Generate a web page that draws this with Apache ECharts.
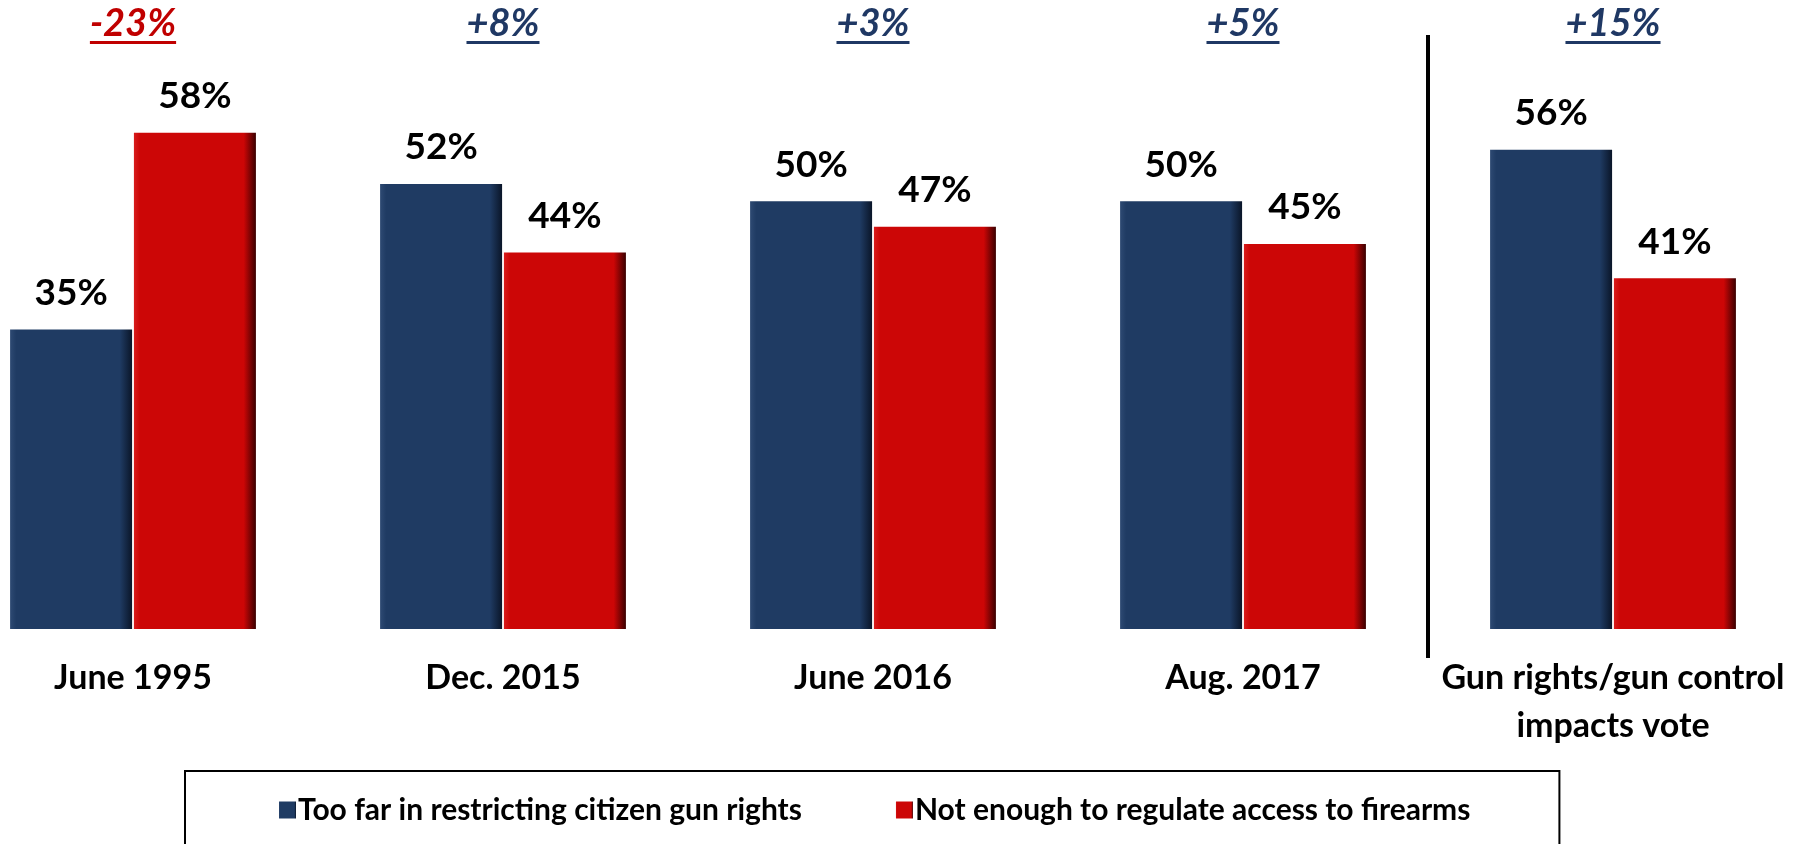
<!DOCTYPE html>
<html>
<head>
<meta charset="utf-8">
<script src="https://cdn.jsdelivr.net/npm/echarts@6/dist/echarts.min.js"></script>
<style>
html,body{margin:0;padding:0;background:#fff;}
#chart{width:1801px;height:844px;}
</style>
</head>
<body>
<div id="chart"></div>
<script>
const categories = ['June 1995', 'Dec. 2015', 'June 2016', 'Aug. 2017', 'Gun rights/gun control\nimpacts vote'];
const seriesNames = ['Too far in restricting citizen gun rights', 'Not enough to regulate access to firearms'];
const tooFar = [35, 52, 50, 50, 56];
const notEnough = [58, 44, 47, 45, 41];
const diffLabels = ['-23%', '+8%', '+3%', '+5%', '+15%'];

const FONT = 'Lato';
const BLUE = '#1F3B63';
const RED = '#CC0606';

function barGrad(base, dark, light) {
  return new echarts.graphic.LinearGradient(0, 0, 1, 0, [
    {offset: 0, color: light},
    {offset: 0.05, color: base},
    {offset: 0.9, color: base},
    {offset: 1, color: dark}
  ]);
}

const chart = echarts.init(document.getElementById('chart'));
const labelCfg = {
  show: true, position: 'top', distance: 18,
  formatter: p => p.value + '%',
  fontFamily: FONT, fontWeight: 'bold', fontSize: 37, color: '#000'
};
chart.setOption({
  animation: false,
  backgroundColor: '#fff',
  grid: {left: 133, right: 188, top: 30, bottom: 215, containLabel: false},
  xAxis: {
    type: 'category', data: categories, boundaryGap: false,
    axisLine: {show: false}, axisTick: {show: false}, splitLine: {show: false},
    axisLabel: {
      interval: 0, margin: 25, fontFamily: FONT, fontWeight: 'bold',
      fontSize: 34, lineHeight: 48, color: '#000'
    }
  },
  yAxis: {type: 'value', min: 0, max: 70, show: false, splitLine: {show: false}},
  legend: {
    left: 185, top: 771,
    padding: [24, 89, 60, 94],
    borderColor: '#000', borderWidth: 2,
    itemWidth: 17, itemHeight: 17, itemGap: 94,
    icon: 'rect',
    textStyle: {fontFamily: FONT, fontWeight: 'bold', fontSize: 30, color: '#000', padding: [0, 0, 0, -3]},
    data: seriesNames
  },
  series: [
    {
      name: seriesNames[0], type: 'bar', data: tooFar, barWidth: 122, barGap: '1.5%',
      itemStyle: {color: barGrad(BLUE, '#0A1528', '#2E4A73')},
      label: labelCfg
    },
    {
      name: seriesNames[1], type: 'bar', data: notEnough, barWidth: 122,
      itemStyle: {color: barGrad(RED, '#3A0000', '#D81C1C')},
      label: labelCfg
    }
  ]
});

// top difference labels and separator, placed through the axis scale
const ctx = document.createElement('canvas').getContext('2d');
const diffFont = 'italic bold 38px ' + FONT;
ctx.font = diffFont;
const graphics = [];
diffLabels.forEach((t, i) => {
  const x = chart.convertToPixel({xAxisIndex: 0}, categories[i]);
  const col = t.charAt(0) === '-' ? '#C00000' : '#1F3864';
  const w = ctx.measureText(t).width;
  graphics.push({
    type: 'text', x: x, y: 24,
    style: {text: t, font: diffFont, fill: col, textAlign: 'center', textVerticalAlign: 'middle'}
  });
  graphics.push({
    type: 'line', shape: {x1: x - w / 2, y1: 42.5, x2: x + w / 2, y2: 42.5},
    style: {stroke: col, lineWidth: 3}
  });
});
const x3 = chart.convertToPixel({xAxisIndex: 0}, categories[3]);
const x4 = chart.convertToPixel({xAxisIndex: 0}, categories[4]);
const sepX = (x3 + x4) / 2;
graphics.push({
  type: 'line', shape: {x1: sepX, y1: 35, x2: sepX, y2: 658},
  style: {stroke: '#000', lineWidth: 4}
});
chart.setOption({graphic: graphics});
</script>
</body>
</html>
